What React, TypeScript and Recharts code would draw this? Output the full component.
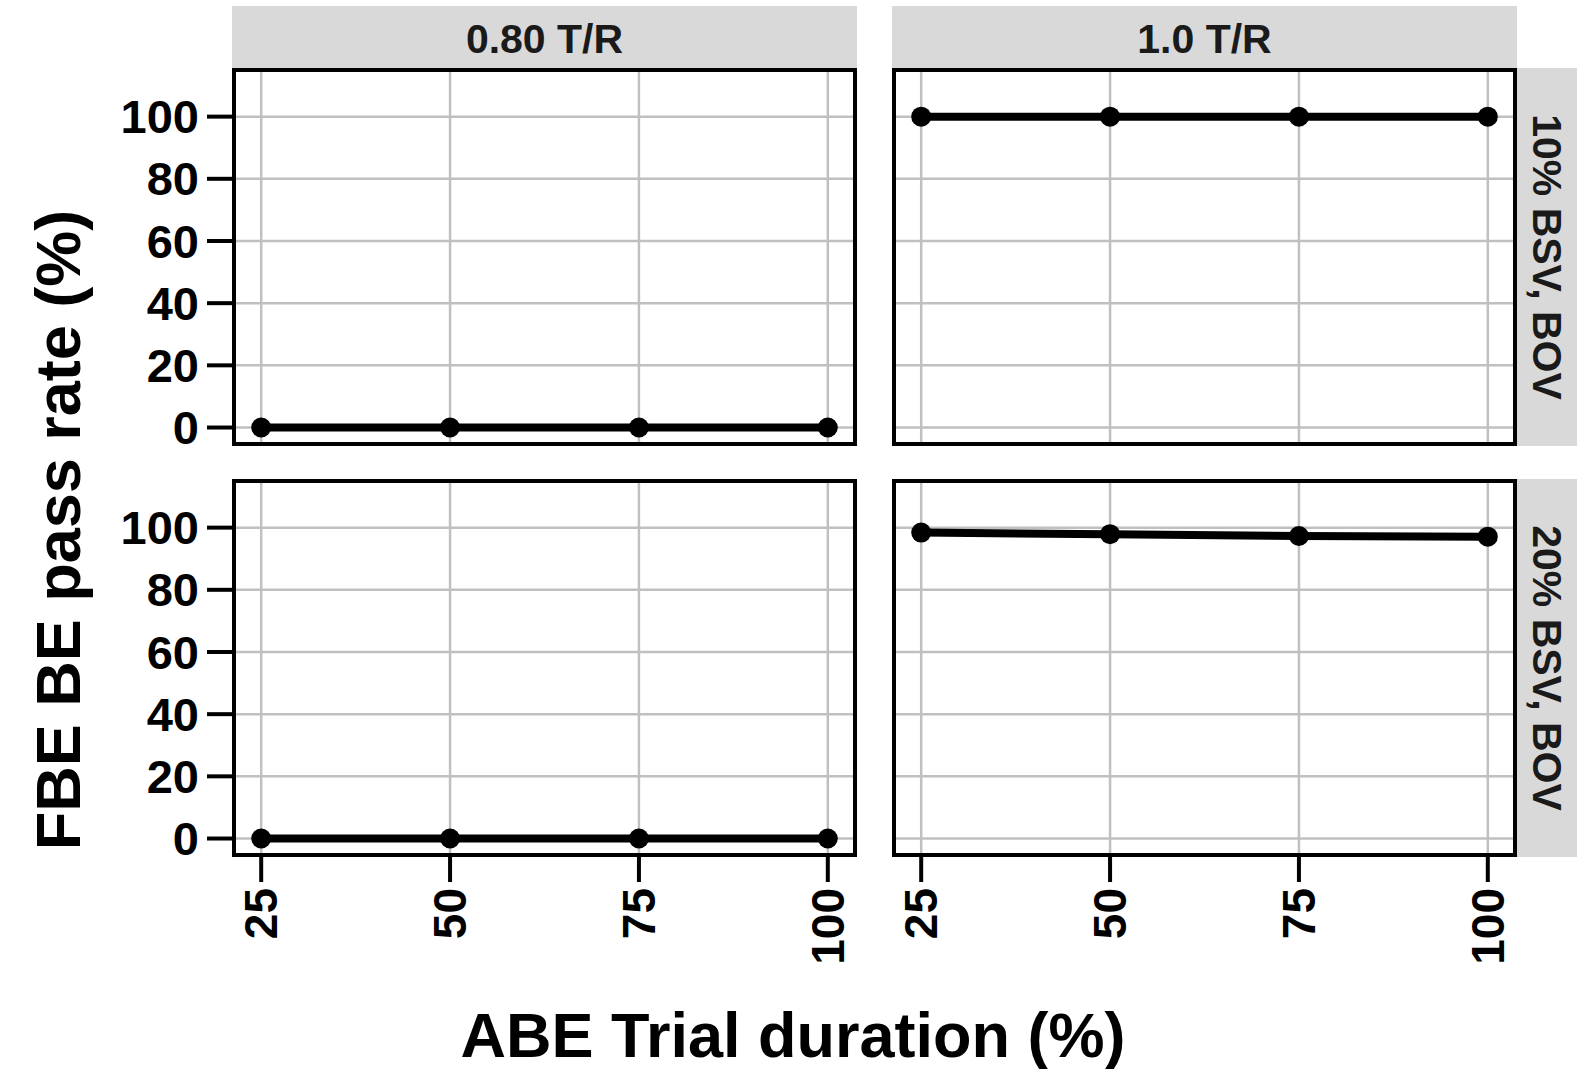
import React from "react";
import { LineChart, Line, XAxis, YAxis, CartesianGrid } from "recharts";

const durations = [25, 50, 75, 100];
const ratioLabels = ["0.80 T/R", "1.0 T/R"];
const variabilityLabels = ["10% BSV, BOV", "20% BSV, BOV"];
const pass080_bsv10 = [0, 0, 0, 0];
const pass100_bsv10 = [100, 100, 100, 100];
const pass080_bsv20 = [0, 0, 0, 0];
const pass100_bsv20 = [98.4, 97.9, 97.3, 97.1];
const yTicks = [0, 20, 40, 60, 80, 100];
const xTicks = [25, 50, 75, 100];
const xTitle = "ABE Trial duration (%)";
const yTitle = "FBE BE pass rate (%)";

const FONT = "'Liberation Sans', Arial, Helvetica, sans-serif";
const PLOT_W = 621;
const PLOT_H = 374;
const Y_AXIS_W = 134;
const X_AXIS_H = 120;
const TOP_ROW_PAD = 30;
const COL_LEFT = [234, 894];
const ROW_TOP = [70, 481];

const XTick = (props: any) => {
  const { x, y, payload } = props;
  return (
    <text
      x={x}
      y={y}
      transform={`rotate(-90, ${x}, ${y})`}
      textAnchor="end"
      dominantBaseline="central"
      fontFamily={FONT}
      fontWeight="bold"
      fontSize={46}
      fill="#000"
    >
      {payload.value}
    </text>
  );
};

const EmptyTick = () => <g />;

function Panel({ values, col, row }: { values: number[]; col: number; row: number }) {
  const showY = col === 0;
  const showX = row === 1;
  const data = durations.map((d, i) => ({ d, v: values[i] }));
  const left = COL_LEFT[col] - (showY ? Y_AXIS_W : 0);
  const top = ROW_TOP[row];
  const width = PLOT_W + (showY ? Y_AXIS_W : 0);
  const bottomPad = showX ? 0 : TOP_ROW_PAD;
  const height = PLOT_H + (showX ? X_AXIS_H : 0) + bottomPad;
  return (
    <>
      <div style={{ position: "absolute", left, top }}>
        <LineChart width={width} height={height} data={data} margin={{ top: 0, right: 0, bottom: bottomPad, left: 0 }}>
          <CartesianGrid stroke="#c0c0c0" strokeWidth={2.5} />
          <XAxis
            dataKey="d"
            type="number"
            domain={[21.4, 103.6]}
            ticks={xTicks}
            allowDataOverflow
            height={showX ? X_AXIS_H : 0}
            axisLine={false}
            tickLine={showX ? { stroke: "#000", strokeWidth: 4 } : false}
            tickSize={27}
            tickMargin={6}
            tick={showX ? <XTick /> : <EmptyTick />}
            interval={0}
          />
          <YAxis
            type="number"
            domain={[-5.3, 115]}
            ticks={yTicks}
            allowDataOverflow
            width={showY ? Y_AXIS_W : 0}
            axisLine={false}
            tickLine={showY ? { stroke: "#000", strokeWidth: 4 } : false}
            tickSize={27}
            tickMargin={8}
            tick={showY ? { fontSize: 47, fontWeight: "bold", fill: "#000", fontFamily: FONT } : <EmptyTick />}
            interval={0}
          />
          <Line
            dataKey="v"
            type="linear"
            stroke="#000"
            strokeWidth={8}
            dot={{ r: 10, fill: "#000", stroke: "#000", strokeWidth: 0 }}
            activeDot={false}
            isAnimationActive={false}
          />
        </LineChart>
      </div>
      <div
        style={{
          position: "absolute",
          left: COL_LEFT[col] - 2,
          top: ROW_TOP[row] - 2,
          width: PLOT_W + 4,
          height: PLOT_H + 4,
          border: "4px solid #000",
          boxSizing: "border-box",
          pointerEvents: "none",
        }}
      />
    </>
  );
}

export default function App() {
  const panels = [
    { values: pass080_bsv10, col: 0, row: 0 },
    { values: pass100_bsv10, col: 1, row: 0 },
    { values: pass080_bsv20, col: 0, row: 1 },
    { values: pass100_bsv20, col: 1, row: 1 },
  ];
  return (
    <div style={{ position: "absolute", left: 0, top: 0, width: 1577, height: 1069, background: "#fff", overflow: "hidden" }}>
      <svg width={1577} height={1069} style={{ position: "absolute", left: 0, top: 0 }}>
        {ratioLabels.map((lab, i) => (
          <g key={lab}>
            <rect x={COL_LEFT[i] - 2} y={6} width={PLOT_W + 4} height={ROW_TOP[0] - 2 - 6} fill="#d9d9d9" />
            <text
              x={COL_LEFT[i] + PLOT_W / 2}
              y={39}
              textAnchor="middle"
              dominantBaseline="central"
              fontFamily={FONT}
              fontWeight="bold"
              fontSize={41}
              fill="#1a1a1a"
            >
              {lab}
            </text>
          </g>
        ))}
        {variabilityLabels.map((lab, i) => {
          const cx = 1547;
          const cy = ROW_TOP[i] + PLOT_H / 2;
          return (
            <g key={lab}>
              <rect x={COL_LEFT[1] + PLOT_W + 2} y={ROW_TOP[i] - 2} width={70} height={PLOT_H + 4} fill="#d9d9d9" />
              <text
                x={cx}
                y={cy}
                transform={`rotate(90, ${cx}, ${cy})`}
                textAnchor="middle"
                dominantBaseline="central"
                fontFamily={FONT}
                fontWeight="bold"
                fontSize={41}
                fill="#1a1a1a"
              >
                {lab}
              </text>
            </g>
          );
        })}
        <text x={793} y={1057} textAnchor="middle" fontFamily={FONT} fontWeight="bold" fontSize={63} fill="#000">
          {xTitle}
        </text>
        <text
          x={80}
          y={530}
          transform="rotate(-90, 80, 530)"
          textAnchor="middle"
          fontFamily={FONT}
          fontWeight="bold"
          fontSize={63}
          fill="#000"
        >
          {yTitle}
        </text>
      </svg>
      {panels.map((p, i) => (
        <Panel key={i} values={p.values} col={p.col} row={p.row} />
      ))}
    </div>
  );
}
